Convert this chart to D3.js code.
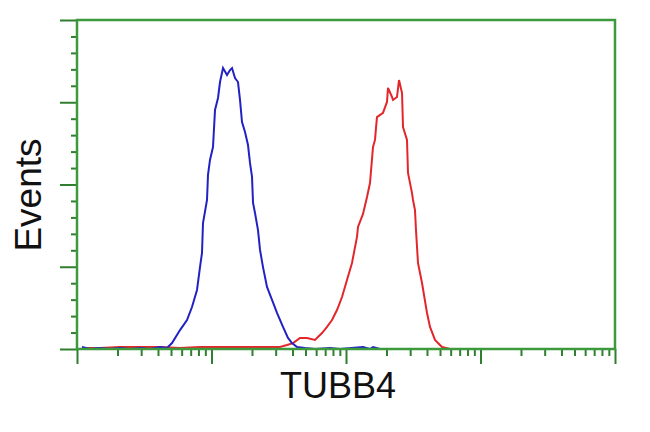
<!DOCTYPE html>
<html><head><meta charset="utf-8">
<script src="https://cdn.jsdelivr.net/npm/d3@7/dist/d3.min.js"></script>
<style>body{margin:0;background:#fff}svg{display:block}</style>
</head><body>
<svg id="chart" width="650" height="432"></svg>
<script>
// Blue histogram (control): fluorescence intensity, events
const blueX = [1.089,1.249,1.483,1.760,2.087,2.478,2.941,3.490,4.141,4.669,5.086,5.833,6.574,7.161,7.802,8.213,8.499,8.646,9.260,9.418,9.745,10.26,10.62,11.18,11.57,12.18,13.04,13.73,14.21,14.95,15.74,16.29,16.86,17.75,18.68,19.33,20.01,20.36,21.06,22.17,22.95,24.15,25.86,28.18,30.69,34.01,37.05,39.68,43.23,49.56,58.83,76.03,90.25,133.8,150.8,158.8,178.9];
const blueY = [1.2,0,0.6,0,0.6,0,0.6,0,1.2,0.6,3.6,11.5,17.6,25.5,35.9,49.8,58.4,76.6,90.6,105.8,114.9,122.8,145.3,152.6,162.3,170.8,166.6,169.6,170.8,164.7,162.3,151.4,138.0,131.9,124.0,113.1,104.6,88.8,82.7,72.3,60.2,49.8,37.7,29.8,21.9,13.4,6.7,3.6,1.2,0.6,0,0.6,0,1.2,0,1.2,0];
// Red histogram (TUBB4 stained)
const redX = [1.147,1.483,2.087,2.941,4.141,5.833,8.213,11.57,16.29,22.95,32.31,36.42,40.36,45.50,51.29,58.83,66.31,72.24,78.69,85.73,93.40,101.7,110.8,120.7,122.8,133.8,143.3,150.8,158.8,164.3,167.1,170.0,188.4,201.7,205.3,219.8,223.6,239.4,247.8,260.9,265.4,284.1,289.1,309.6,314.9,325.8,331.4,343.0,367.4,400.3,421.3,458.9,517.4,593.3];
const redY = [0.6,0.6,1.2,1.2,1.2,0.6,1.2,1.2,1.2,1.2,1.2,2.4,3.6,6.7,6.7,5.5,9.7,13.4,17.6,23.7,31.6,41.9,52.3,68.1,74.2,82.1,92.4,100.9,122.8,127.1,134.3,141.0,143.5,150.2,158.7,153.2,151.4,153.2,163.5,155.6,134.9,127.1,107.0,94.8,90.6,84.5,72.3,52.3,40.1,21.9,13.4,5.5,1.2,0];
// Axis settings
const xDomain = [1, 10000];
const yDomain = [0, 200];
const xMajorTicks = [1, 10, 100, 1000, 10000];
const yMajorTicks = [0, 50, 100, 150, 200];
const xLabel = "TUBB4";
const yLabel = "Events";

(function () {
const svg = d3.select("#chart");
const L = 77, R = 615, T = 20, B = 349;
const green = "#3c9a3c";
const tickCol = "#2f7f2f";

const x = d3.scaleLog().domain(xDomain).range([L, R]);
const y = d3.scaleLinear().domain(yDomain).range([B, T]);

const xMinor = [];
xMajorTicks.slice(0, -1).forEach(d => { for (let k = 2; k <= 9; k++) xMinor.push(d * k); });
const yMinor = d3.range(yDomain[0], yDomain[1] + 1, 10).filter(v => v % 50 !== 0);

const gx = svg.append("g").attr("transform", `translate(0,${B})`);
gx.call(d3.axisBottom(x).tickValues(xMinor).tickSize(7).tickFormat(""));
gx.append("g").call(d3.axisBottom(x).tickValues(xMajorTicks).tickSize(15).tickFormat(""));
gx.selectAll("path.domain").remove();
gx.selectAll("line").attr("stroke", tickCol).attr("stroke-width", 2);

const gy = svg.append("g").attr("transform", `translate(${L},0)`);
gy.call(d3.axisLeft(y).tickValues(yMinor).tickSize(6).tickFormat(""));
gy.append("g").call(d3.axisLeft(y).tickValues(yMajorTicks).tickSize(17).tickFormat(""));
gy.selectAll("path.domain").remove();
gy.selectAll("line").attr("stroke", tickCol).attr("stroke-width", 2);

const mk = d3.line().x(d => x(d[0])).y(d => y(d[1]));
svg.append("path").datum(redX.map((v, i) => [v, redY[i]]))
  .attr("d", mk).attr("fill", "none").attr("stroke", "#e3262a").attr("stroke-width", 2);
svg.append("path").datum(blueX.map((v, i) => [v, blueY[i]]))
  .attr("d", mk).attr("fill", "none").attr("stroke", "#2222c4").attr("stroke-width", 2);

svg.append("rect").attr("x", L).attr("y", T).attr("width", R - L).attr("height", B - T)
  .attr("fill", "none").attr("stroke", green).attr("stroke-width", 2.5);

svg.append("text").attr("x", 338).attr("y", 398)
  .attr("text-anchor", "middle").attr("font-family", "Liberation Sans, Arial, sans-serif")
  .attr("font-size", 36).attr("fill", "#111").text(xLabel);
svg.append("text").attr("transform", `translate(41,195) rotate(-90)`)
  .attr("text-anchor", "middle").attr("font-family", "Liberation Sans, Arial, sans-serif")
  .attr("font-size", 37).attr("fill", "#111").text(yLabel);
})();
</script>
</body></html>
